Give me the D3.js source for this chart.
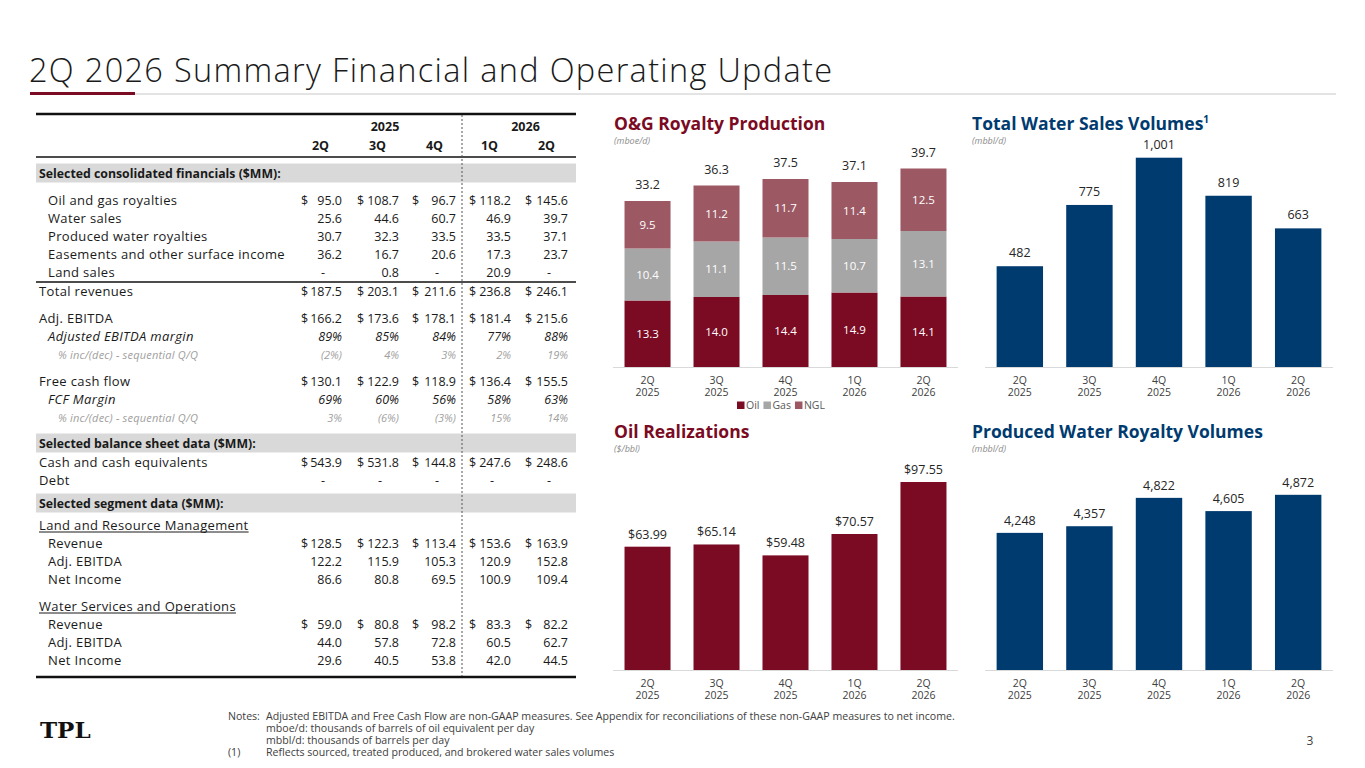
<!DOCTYPE html>
<html>
<head>
<meta charset="utf-8">
<script src="https://cdn.jsdelivr.net/npm/d3@7"></script>
<style>
  body { margin: 0; background: #fff; }
  svg { display: block; font-family: "Open Sans", sans-serif; }
</style>
</head>
<body>
<div id="slide"></div>
<script>
/* * * * * * * * * * * * * *
*   Slide data              *
* * * * * * * * * * * * * */

const quarters = ["2Q 2025", "3Q 2025", "4Q 2025", "1Q 2026", "2Q 2026"];
const tableYears = ["2025", "2026"];
const tableQuarters = ["2Q", "3Q", "4Q", "1Q", "2Q"];

// table values ($MM unless %)
const oilGasRoyalties = [95.0, 108.7, 96.7, 118.2, 145.6];
const waterSales = [25.6, 44.6, 60.7, 46.9, 39.7];
const producedWaterRoyalties = [30.7, 32.3, 33.5, 33.5, 37.1];
const easements = [36.2, 16.7, 20.6, 17.3, 23.7];
const landSales = [null, 0.8, null, 20.9, null];
const totalRevenues = [187.5, 203.1, 211.6, 236.8, 246.1];
const adjEbitda = [166.2, 173.6, 178.1, 181.4, 215.6];
const adjEbitdaMargin = [89, 85, 84, 77, 88];
const adjEbitdaSeq = [-2, 4, 3, 2, 19];
const freeCashFlow = [130.1, 122.9, 118.9, 136.4, 155.5];
const fcfMargin = [69, 60, 56, 58, 63];
const fcfSeq = [3, -6, -3, 15, 14];
const cashEquivalents = [543.9, 531.8, 144.8, 247.6, 248.6];
const debt = [null, null, null, null, null];
const lrmRevenue = [128.5, 122.3, 113.4, 153.6, 163.9];
const lrmAdjEbitda = [122.2, 115.9, 105.3, 120.9, 152.8];
const lrmNetIncome = [86.6, 80.8, 69.5, 100.9, 109.4];
const wsoRevenue = [59.0, 80.8, 98.2, 83.3, 82.2];
const wsoAdjEbitda = [44.0, 57.8, 72.8, 60.5, 62.7];
const wsoNetIncome = [29.6, 40.5, 53.8, 42.0, 44.5];

// chart values
const prodSeries = ["Oil", "Gas", "NGL"];
const oilProd = [13.3, 14.0, 14.4, 14.9, 14.1];
const gasProd = [10.4, 11.1, 11.5, 10.7, 13.1];
const nglProd = [9.5, 11.2, 11.7, 11.4, 12.5];
const totalProd = [33.2, 36.3, 37.5, 37.1, 39.7];
const waterSalesVolumes = [482, 775, 1001, 819, 663];
const oilRealizations = [63.99, 65.14, 59.48, 70.57, 97.55];
const producedWaterVolumes = [4248, 4357, 4822, 4605, 4872];

const notes = [
    "Adjusted EBITDA and Free Cash Flow are non-GAAP measures.  See Appendix for reconciliations of these non-GAAP measures to net income.",
    "mboe/d: thousands of barrels of oil equivalent per day",
    "mbbl/d: thousands of barrels per day"
];
const footnote1 = "Reflects sourced, treated produced, and brokered water sales volumes";

/* * * * * * * * * * * * * *
*   Drawing                 *
* * * * * * * * * * * * * */

const maroon = "#7b0a23";
const navy = "#003b70";
const prodColors = {Oil: maroon, Gas: "#a6a6a6", NGL: "#9c5964"};

const svg = d3.select("#slide").append("svg")
    .attr("width", 1365)
    .attr("height", 768);

// slide title
svg.append("text")
    .attr("x", 29).attr("y", 82)
    .attr("font-size", 32.5)
    .attr("font-weight", 300)
    .attr("fill", "#1a1a1a")
    .attr("textLength", 803)
    .attr("lengthAdjust", "spacing")
    .text("2Q 2026 Summary Financial and Operating Update");
svg.append("line")
    .attr("x1", 30).attr("x2", 1336).attr("y1", 94).attr("y2", 94)
    .attr("stroke", "#c8c8c8").attr("stroke-width", 1);
svg.append("line")
    .attr("x1", 30).attr("x2", 135).attr("y1", 93.5).attr("y2", 93.5)
    .attr("stroke", maroon).attr("stroke-width", 3);

/* ---------- table ---------- */
let tbl = svg.append("g").attr("class", "table");

const tLeft = 36, tRight = 576, dashX = 462;
const dollarX = [301, 357, 412, 469, 525];
const valueRight = [342, 399, 456, 511, 568];

const fNum = d => d == null ? "-" : d3.format(".1f")(d);
const fPct = d => d < 0 ? "(" + (-d) + "%)" : d + "%";

// rows are built from the arrays above
const rows = [
    {type: "band", label: "Selected consolidated financials ($MM):", y: 173},
    {type: "item", label: "Oil and gas royalties", vals: oilGasRoyalties, dollar: true, y: 200},
    {type: "item", label: "Water sales", vals: waterSales, y: 218},
    {type: "item", label: "Produced water royalties", vals: producedWaterRoyalties, y: 236},
    {type: "item", label: "Easements and other surface income", vals: easements, y: 254},
    {type: "item", label: "Land sales", vals: landSales, y: 272},
    {type: "total", label: "Total revenues", vals: totalRevenues, dollar: true, y: 291, ruleAbove: 282},
    {type: "total", label: "Adj. EBITDA", vals: adjEbitda, dollar: true, y: 318},
    {type: "pct", label: "Adjusted EBITDA margin", vals: adjEbitdaMargin, y: 336},
    {type: "seq", label: "% inc/(dec) - sequential Q/Q", vals: adjEbitdaSeq, y: 354},
    {type: "total", label: "Free cash flow", vals: freeCashFlow, dollar: true, y: 381},
    {type: "pct", label: "FCF Margin", vals: fcfMargin, y: 399},
    {type: "seq", label: "% inc/(dec) - sequential Q/Q", vals: fcfSeq, y: 417},
    {type: "band", label: "Selected balance sheet data ($MM):", y: 443},
    {type: "total", label: "Cash and cash equivalents", vals: cashEquivalents, dollar: true, y: 462},
    {type: "total", label: "Debt", vals: debt, y: 480},
    {type: "band", label: "Selected segment data ($MM):", y: 503},
    {type: "under", label: "Land and Resource Management", y: 525},
    {type: "item", label: "Revenue", vals: lrmRevenue, dollar: true, y: 543},
    {type: "item", label: "Adj. EBITDA", vals: lrmAdjEbitda, y: 561},
    {type: "item", label: "Net Income", vals: lrmNetIncome, y: 579},
    {type: "under", label: "Water Services and Operations", y: 606},
    {type: "item", label: "Revenue", vals: wsoRevenue, dollar: true, y: 624},
    {type: "item", label: "Adj. EBITDA", vals: wsoAdjEbitda, y: 642},
    {type: "item", label: "Net Income", vals: wsoNetIncome, y: 660}
];

// gray bands first so text sits on top
rows.filter(r => r.type === "band").forEach(r => {
    tbl.append("rect")
        .attr("x", tLeft).attr("y", r.y - 9.5)
        .attr("width", tRight - tLeft).attr("height", 19)
        .attr("fill", "#d9d9d9");
});

// header
tbl.append("line")
    .attr("x1", tLeft).attr("x2", tRight).attr("y1", 114).attr("y2", 114)
    .attr("stroke", "#111").attr("stroke-width", 2.5);
tbl.append("line")
    .attr("x1", tLeft).attr("x2", tRight).attr("y1", 157).attr("y2", 157)
    .attr("stroke", "#111").attr("stroke-width", 1.5);
tbl.append("line")
    .attr("x1", tLeft).attr("x2", tRight).attr("y1", 677).attr("y2", 677)
    .attr("stroke", "#111").attr("stroke-width", 2.5);
tbl.append("line")
    .attr("x1", dashX).attr("x2", dashX).attr("y1", 115).attr("y2", 676)
    .attr("stroke", "#555").attr("stroke-width", 1)
    .attr("stroke-dasharray", "2,2");

const yearCenters = [(valueRight[0] + valueRight[2]) / 2 - 14, (valueRight[3] + valueRight[4]) / 2 - 14];
tbl.selectAll(".year").data(tableYears).enter().append("text")
    .attr("x", (d, i) => yearCenters[i]).attr("y", 131)
    .attr("text-anchor", "middle")
    .attr("font-size", 12.5).attr("font-weight", 700).attr("fill", "#1a1a1a")
    .text(d => d);
tbl.selectAll(".qtr").data(tableQuarters).enter().append("text")
    .attr("x", (d, i) => valueRight[i] - 13).attr("y", 150)
    .attr("text-anchor", "end")
    .attr("font-size", 12.5).attr("font-weight", 700).attr("fill", "#1a1a1a")
    .text(d => d);

rows.forEach(r => {
    let lx = 39, size = 13, vsize = 12.5, color = "#1a1a1a", style = "normal", weight = 400, ls = 0.35;
    if (r.type === "item" || r.type === "pct") lx = 48;
    if (r.type === "seq") { lx = 58; size = 11; vsize = 11; color = "#a0a0a0"; style = "italic"; ls = 0.2; }
    if (r.type === "pct") style = "italic";
    if (r.type === "band") { weight = 700; size = 12.3; ls = 0; }

    let label = tbl.append("text")
        .attr("x", lx).attr("y", r.y + 4.5)
        .attr("font-size", size).attr("font-weight", weight)
        .attr("font-style", style).attr("fill", color)
        .attr("letter-spacing", ls)
        .text(r.label);

    if (r.type === "under") {
        let w = label.node().getComputedTextLength();
        tbl.append("line")
            .attr("x1", lx).attr("x2", lx + w)
            .attr("y1", r.y + 7).attr("y2", r.y + 7)
            .attr("stroke", color).attr("stroke-width", 1);
    }
    if (r.ruleAbove) {
        tbl.append("line")
            .attr("x1", tLeft).attr("x2", tRight)
            .attr("y1", r.ruleAbove).attr("y2", r.ruleAbove)
            .attr("stroke", "#111").attr("stroke-width", 1.5);
    }
    if (!r.vals) return;

    let isPct = r.type === "pct" || r.type === "seq";
    r.vals.forEach((v, i) => {
        tbl.append("text")
            .attr("x", v == null ? valueRight[i] - 17 : valueRight[i])
            .attr("y", r.y + 4.5)
            .attr("text-anchor", "end")
            .attr("font-size", vsize).attr("font-style", style).attr("fill", color)
            .text(isPct ? fPct(v) : fNum(v));
        if (r.dollar) {
            tbl.append("text")
                .attr("x", dollarX[i]).attr("y", r.y + 4.5)
                .attr("font-size", vsize).attr("fill", color)
                .text("$");
        }
    });
});

/* ---------- charts ---------- */

function chartTitle(x, y, title, unit, color, sup) {
    let t = svg.append("text")
        .attr("x", x).attr("y", y)
        .attr("font-size", 17.5).attr("font-weight", 700)
        .attr("fill", color)
        .text(title);
    if (sup) {
        t.append("tspan").attr("dy", -7).attr("font-size", 10).text(sup);
    }
    svg.append("text")
        .attr("x", x).attr("y", y + 14)
        .attr("font-size", 9).attr("font-style", "italic")
        .attr("fill", "#8c8c8c")
        .text(unit);
}

function categoryAxis(g, x, baseY) {
    let xr = x.range();
    g.append("line")
        .attr("x1", xr[0]).attr("x2", xr[1])
        .attr("y1", baseY + 0.5).attr("y2", baseY + 0.5)
        .attr("stroke", "#d9d9d9").attr("stroke-width", 1);
    let lab = g.selectAll(".cat").data(quarters).enter().append("text")
        .attr("text-anchor", "middle")
        .attr("font-size", 10.5).attr("fill", "#404040");
    lab.append("tspan")
        .attr("x", d => x(d) + x.bandwidth() / 2).attr("y", baseY + 17)
        .text(d => d.split(" ")[0]);
    lab.append("tspan")
        .attr("x", d => x(d) + x.bandwidth() / 2).attr("y", baseY + 29)
        .text(d => d.split(" ")[1]);
}

function simpleBars(g, x, y, values, color, fmt, gap) {
    g.selectAll(".bar").data(values).enter().append("rect")
        .attr("x", (d, i) => x(quarters[i]))
        .attr("y", d => y(d))
        .attr("width", x.bandwidth())
        .attr("height", d => y.range()[0] - y(d))
        .attr("fill", color);
    g.selectAll(".val").data(values).enter().append("text")
        .attr("x", (d, i) => x(quarters[i]) + x.bandwidth() / 2)
        .attr("y", d => y(d) - gap)
        .attr("text-anchor", "middle")
        .attr("font-size", 12.5).attr("fill", "#262626")
        .text(fmt);
}

// left column x scale
const xLeft = d3.scaleBand().domain(quarters).range([613, 958])
    .paddingInner(0.333).paddingOuter(0.167);
// right column x scale
const xRight = d3.scaleBand().domain(quarters).range([985, 1333])
    .paddingInner(0.333).paddingOuter(0.167);

// O&G Royalty Production (stacked)
chartTitle(614, 130, "O&G Royalty Production", "(mboe/d)", maroon);
let prodG = svg.append("g");
const yProd = d3.scaleLinear().domain([0, 40]).range([367, 167]);
const prodTable = quarters.map((q, i) => ({q: q, Oil: oilProd[i], Gas: gasProd[i], NGL: nglProd[i]}));
const stacked = d3.stack().keys(prodSeries)(prodTable);

prodG.selectAll(".layer").data(stacked).enter().append("g")
    .attr("fill", d => prodColors[d.key])
    .each(function(layer) {
        let lg = d3.select(this);
        lg.selectAll("rect").data(layer).enter().append("rect")
            .attr("x", d => xLeft(d.data.q))
            .attr("y", d => yProd(d[1]))
            .attr("width", xLeft.bandwidth())
            .attr("height", d => yProd(d[0]) - yProd(d[1]));
        lg.selectAll("text").data(layer).enter().append("text")
            .attr("x", d => xLeft(d.data.q) + xLeft.bandwidth() / 2)
            .attr("y", d => (yProd(d[0]) + yProd(d[1])) / 2 + 4)
            .attr("text-anchor", "middle")
            .attr("font-size", 11.5).attr("fill", "#fff")
            .text(d => d3.format(".1f")(d.data[layer.key]));
    });
prodG.selectAll(".tot").data(totalProd).enter().append("text")
    .attr("x", (d, i) => xLeft(quarters[i]) + xLeft.bandwidth() / 2)
    .attr("y", (d, i) => yProd(d3.sum(stacked, s => s[i][1] - s[i][0])) - 12)
    .attr("text-anchor", "middle")
    .attr("font-size", 12.5).attr("fill", "#262626")
    .text(d => d3.format(".1f")(d));
categoryAxis(prodG, xLeft, 367);

// legend
let legend = prodG.append("g").attr("transform", "translate(737,409)");
let lx = 0;
prodSeries.forEach(k => {
    legend.append("rect").attr("x", lx).attr("y", -7.5).attr("width", 7.5).attr("height", 7.5)
        .attr("fill", prodColors[k]);
    let t = legend.append("text").attr("x", lx + 9).attr("y", 0)
        .attr("font-size", 10.5).attr("fill", "#595959").text(k);
    lx += 9 + t.node().getComputedTextLength() + 4;
});

// Total Water Sales Volumes
chartTitle(972, 130, "Total Water Sales Volumes", "(mbbl/d)", navy, "1");
let waterG = svg.append("g");
const yWater = d3.scaleLinear().domain([0, 1100]).range([367, 137]);
simpleBars(waterG, xRight, yWater, waterSalesVolumes, navy, d3.format(","), 9);
categoryAxis(waterG, xRight, 367);

// Oil Realizations
chartTitle(614, 438, "Oil Realizations", "($/bbl)", maroon);
let oilG = svg.append("g");
const yOil = d3.scaleLinear().domain([0, 100]).range([670, 477.3]);
simpleBars(oilG, xLeft, yOil, oilRealizations, maroon, d => "$" + d3.format(".2f")(d), 8);
categoryAxis(oilG, xLeft, 670);

// Produced Water Royalty Volumes
chartTitle(972, 438, "Produced Water Royalty Volumes", "(mbbl/d)", navy);
let pwG = svg.append("g");
const yPw = d3.scaleLinear().domain([2000, 5000]).range([670, 487]);
simpleBars(pwG, xRight, yPw, producedWaterVolumes, navy, d3.format(","), 8);
categoryAxis(pwG, xRight, 670);

/* ---------- footer ---------- */
svg.append("text")
    .attr("x", 40).attr("y", 738)
    .attr("font-family", "'DejaVu Serif', serif")
    .attr("font-size", 23).attr("font-weight", 700)
    .attr("fill", "#111")
    .text("TPL");

let notesG = svg.append("g")
    .attr("font-size", 10.6).attr("fill", "#404040");
notesG.append("text").attr("x", 228).attr("y", 720).text("Notes:");
notesG.selectAll(".note").data(notes).enter().append("text")
    .attr("x", 266).attr("y", (d, i) => 720 + i * 12)
    .text(d => d);
notesG.append("text").attr("x", 228).attr("y", 756).text("(1)");
notesG.append("text").attr("x", 266).attr("y", 756).text(footnote1);

svg.append("text")
    .attr("x", 1310).attr("y", 745)
    .attr("text-anchor", "middle")
    .attr("font-size", 12).attr("fill", "#404040")
    .text("3");
</script>
</body>
</html>
